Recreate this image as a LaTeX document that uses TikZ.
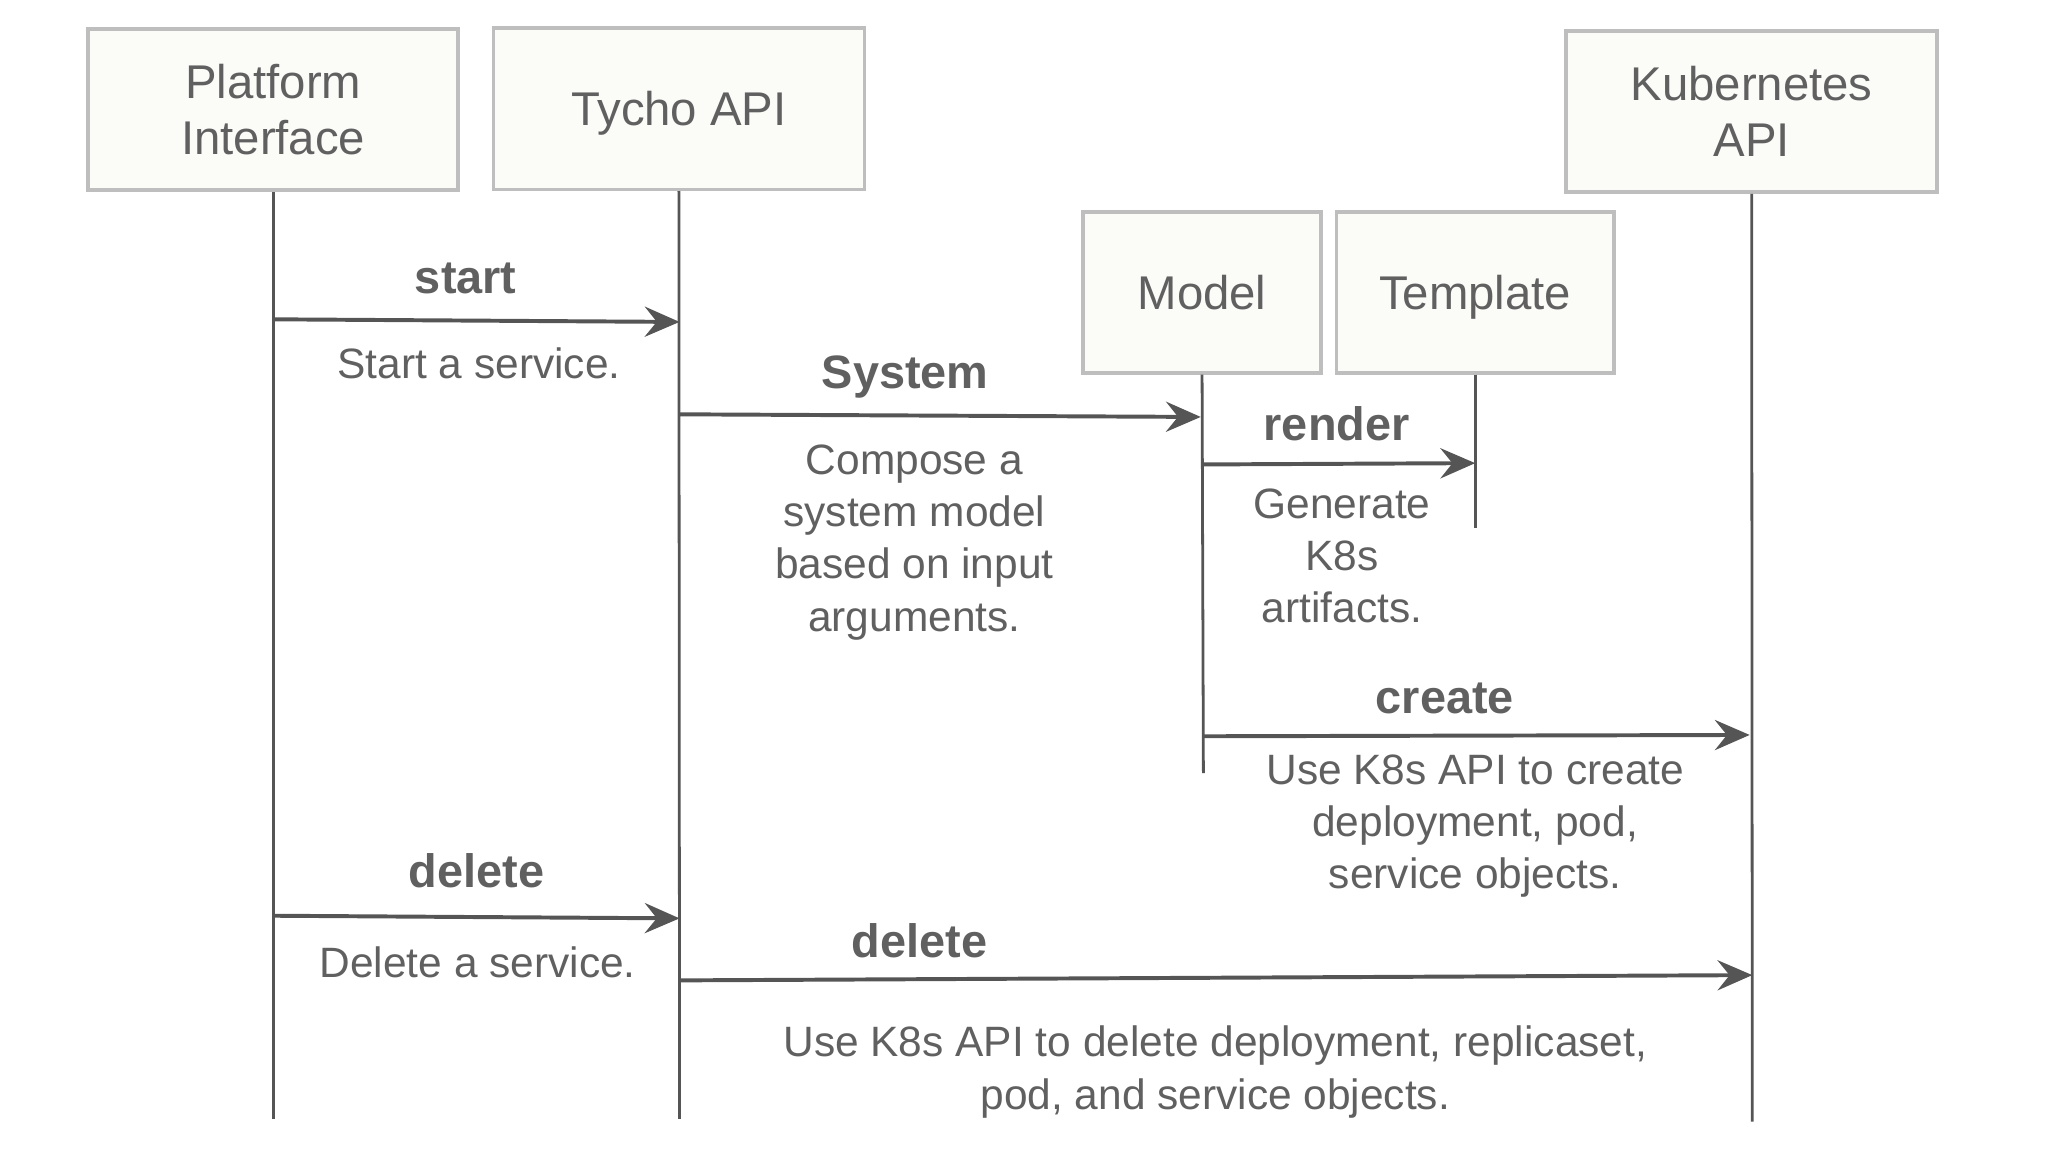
\documentclass[tikz,border=0pt]{standalone}
\usepackage{fontspec}
\setmainfont{Liberation Sans}
\usetikzlibrary{arrows.meta}
\definecolor{boxfill}{RGB}{251,252,248}
\definecolor{boxline}{RGB}{190,190,190}
\definecolor{txt}{RGB}{96,96,96}
\definecolor{ln}{RGB}{85,85,85}
\begin{document}
\begin{tikzpicture}[x=0.01cm,y=-0.01cm,
  actor/.style={draw=boxline,line width=0.8pt,fill=boxfill,text=txt,align=center,
    minimum height=1.22cm,inner sep=0pt,font=\fontsize{10.2}{12}\selectfont},
  life/.style={draw=ln,line width=0.6pt},
  msg/.style={draw=ln,line width=0.85pt,-{Stealth[length=7.5pt,width=6.5pt,inset=2.6pt]}},
  lbl/.style={text=txt,inner sep=0pt,font=\fontsize{10.1}{12}\selectfont\bfseries},
  desc/.style={text=txt,inner sep=0pt,align=center,font=\fontsize{9.15}{11.25}\selectfont}]
\useasboundingbox (0,0) rectangle (1568,883.7);
% actors
\node[actor,minimum width=2.80cm] (pi) at (207,83) {Platform\\Interface};
\node[actor,minimum width=2.81cm,text depth=0pt] (ty) at (514.5,82.5) {Tycho API};
\node[actor,minimum width=1.80cm] (mo) at (911,221.5) {Model};
\node[actor,minimum width=2.10cm,text depth=0pt] (te) at (1118,221.5) {Template};
\node[actor,minimum width=2.81cm] (k8) at (1327.5,84.5) {Kubernetes\\API};
% lifeline ends
\coordinate (piE) at (207,848);
\coordinate (tyE) at (515,848);
\coordinate (moE) at (912,586);
\coordinate (teE) at (1118,400);
\coordinate (k8E) at (1328,850);
\draw[life] (pi.south) -- (piE);
\draw[life] (ty.south) -- (tyE);
\draw[life] (mo.south) -- (moE);
\draw[life] (te.south) -- (teE);
\draw[life] (k8.south) -- (k8E);
% message points
\coordinate (s1) at (207,242); \coordinate (s2) at (515,244);
\coordinate (y1) at (515,314); \coordinate (y2) at (910,316);
\coordinate (r1) at (912,352); \coordinate (r2) at (1118,351);
\coordinate (c1) at (912,558); \coordinate (c2) at (1326,557);
\coordinate (d1) at (207,694); \coordinate (d2) at (515,696);
\coordinate (e1) at (515,743); \coordinate (e2) at (1328,739);
\draw[msg] (s1) -- (s2);
\draw[msg] (y1) -- (y2);
\draw[msg] (r1) -- (r2);
\draw[msg] (c1) -- (c2);
\draw[msg] (d1) -- (d2);
\draw[msg] (e1) -- (e2);
% labels
\node[lbl] (ls) at (353,211) {start};
\node[desc] (ds) at (363,275) {Start a service.};
\node[lbl] (ly) at (686,286) {System};
\node[desc] (dy) at (693,411) {Compose a\\system model\\based on input\\arguments.};
\node[lbl] (lr) at (1013,321) {render};
\node[desc] (dr) at (1017,421.5) {Generate\\K8s\\artifacts.};
\node[lbl] (lc) at (1095,529) {create};
\node[desc] (dc) at (1118,626) {Use K8s API to create\\deployment, pod,\\service objects.};
\node[lbl] (ld) at (361,660) {delete};
\node[desc] (dd) at (362,729) {Delete a service.};
\node[lbl] (le) at (697,713) {delete};
\node[desc] (de) at (921,812.5) {Use K8s API to delete deployment, replicaset,\\pod, and service objects.};
\end{tikzpicture}
\end{document}
